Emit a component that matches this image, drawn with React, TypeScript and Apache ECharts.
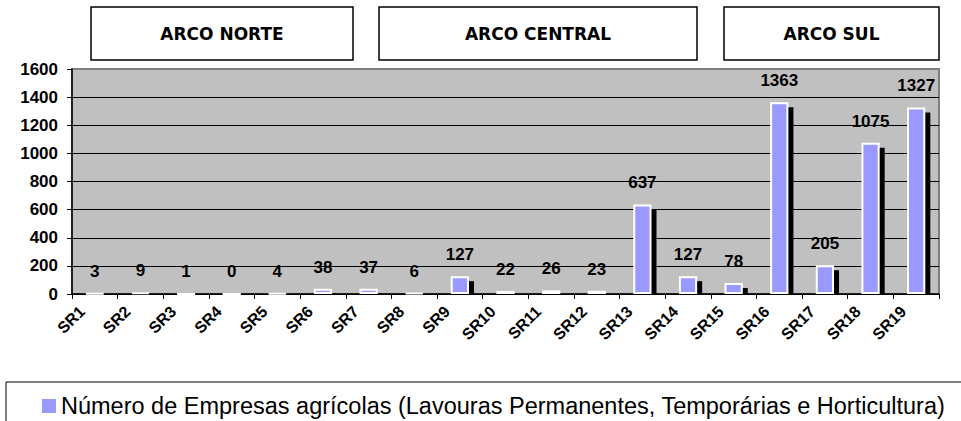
import React, { useEffect, useRef } from "react";
import * as echarts from "echarts";

// Sub-regions on the horizontal axis
const categories = [
  "SR1", "SR2", "SR3", "SR4", "SR5", "SR6", "SR7", "SR8", "SR9", "SR10",
  "SR11", "SR12", "SR13", "SR14", "SR15", "SR16", "SR17", "SR18", "SR19",
];

// Number of agricultural companies per sub-region
const companies = [3, 9, 1, 0, 4, 38, 37, 6, 127, 22, 26, 23, 637, 127, 78, 1363, 205, 1075, 1327];

const seriesName =
  "Número de Empresas agrícolas (Lavouras Permanentes, Temporárias e Horticultura)";

// Header boxes grouping the sub-regions
const arcoLabels = ["ARCO NORTE", "ARCO CENTRAL", "ARCO SUL"];

const yTicks = { min: 0, max: 1600, interval: 200 };

export default function App() {
  const ref = useRef<HTMLDivElement>(null);

  useEffect(() => {
    if (!ref.current) return;
    const chart = echarts.init(ref.current, null, { renderer: "svg" });

    const barRatio = 0.4;
    const boxes = [
      { x: 91, w: 262 },
      { x: 379, w: 318 },
      { x: 724, w: 215 },
    ];

    chart.setOption({
      animation: false,
      backgroundColor: "#ffffff",
      textStyle: { fontFamily: "Liberation Sans, Arial, sans-serif" },
      grid: {
        left: 72,
        right: 22,
        top: 69,
        bottom: 127,
        show: true,
        backgroundColor: "#C0C0C0",
        borderColor: "#808080",
        borderWidth: 2,
      },
      legend: {
        data: [seriesName],
        left: 37,
        top: 389,
        icon: "rect",
        itemWidth: 14,
        itemHeight: 14,
        itemGap: 5,
        itemStyle: { borderWidth: 0 },
        textStyle: {
          fontSize: 23.5,
          color: "#000",
          fontFamily: "Liberation Sans, Arial, sans-serif",
        },
      },
      graphic: [
        ...boxes.map((b, i) => ({
          type: "group",
          children: [
            {
              type: "rect",
              shape: { x: b.x, y: 7, width: b.w, height: 53 },
              style: { fill: "#fff", stroke: "#000", lineWidth: 1.5 },
            },
            {
              type: "text",
              x: b.x + b.w / 2,
              y: 33.5,
              style: {
                text: arcoLabels[i],
                fill: "#000",
                font: "bold 17px 'DejaVu Sans', Verdana, sans-serif",
                textAlign: "center",
                textVerticalAlign: "middle",
              },
            },
          ],
        })),
        {
          type: "rect",
          shape: { x: 6, y: 382, width: 970, height: 60 },
          style: { fill: "none", stroke: "#000", lineWidth: 1 },
          z: -1,
        },
      ],
      xAxis: {
        type: "category",
        data: categories,
        boundaryGap: true,
        axisLine: { show: true, lineStyle: { color: "#000", width: 1.5 } },
        axisTick: { show: true, alignWithLabel: false, length: 5, lineStyle: { color: "#000" } },
        axisLabel: {
          interval: 0,
          rotate: 45,
          margin: 2,
          padding: [0, 18, 13, 0],
          fontSize: 16,
          fontWeight: "bold",
          color: "#000",
        },
        splitLine: { show: false },
      },
      yAxis: {
        type: "value",
        min: yTicks.min,
        max: yTicks.max,
        interval: yTicks.interval,
        axisLine: { show: true, lineStyle: { color: "#000", width: 1.5 } },
        axisTick: { show: true, length: 5, lineStyle: { color: "#000" } },
        axisLabel: {
          fontSize: 17,
          fontWeight: "bold",
          color: "#000",
          margin: 14,
          formatter: (v: number) => String(v),
        },
        splitLine: {
          show: true,
          lineStyle: {
            color: ["#000", "#000", "#000", "#000", "#000", "#000", "#000", "#000", "#808080"],
            width: 1,
          },
        },
      },
      series: [
        {
          // drop shadow behind each bar, clipped at the baseline
          type: "custom",
          name: "shadow",
          z: 2,
          silent: true,
          data: companies.map((v, i) => [i, v]),
          renderItem: (params: any, api: any) => {
            const top = api.coord([api.value(0), api.value(1)]);
            const base = api.coord([api.value(0), 0]);
            const band = api.size([1, 0])[0];
            const w = band * barRatio;
            const y = top[1] + 5;
            const h = base[1] - y;
            if (h <= 0) return null;
            return {
              type: "rect",
              shape: { x: top[0] - w / 2 + 5, y, width: w, height: h },
              style: { fill: "#000" },
            };
          },
        },
        {
          type: "bar",
          name: seriesName,
          z: 3,
          data: companies,
          barWidth: `${barRatio * 100}%`,
          itemStyle: { color: "#9999FF", borderColor: "#ffffff", borderWidth: 2 },
          label: {
            show: true,
            position: "top",
            distance: 13,
            fontSize: 17,
            fontWeight: "bold",
            color: "#000",
          },
        },
      ],
    });

    return () => chart.dispose();
  }, []);

  return (
    <div
      ref={ref}
      style={{ position: "fixed", left: 0, top: 0, width: 961, height: 421, background: "#fff" }}
    />
  );
}
